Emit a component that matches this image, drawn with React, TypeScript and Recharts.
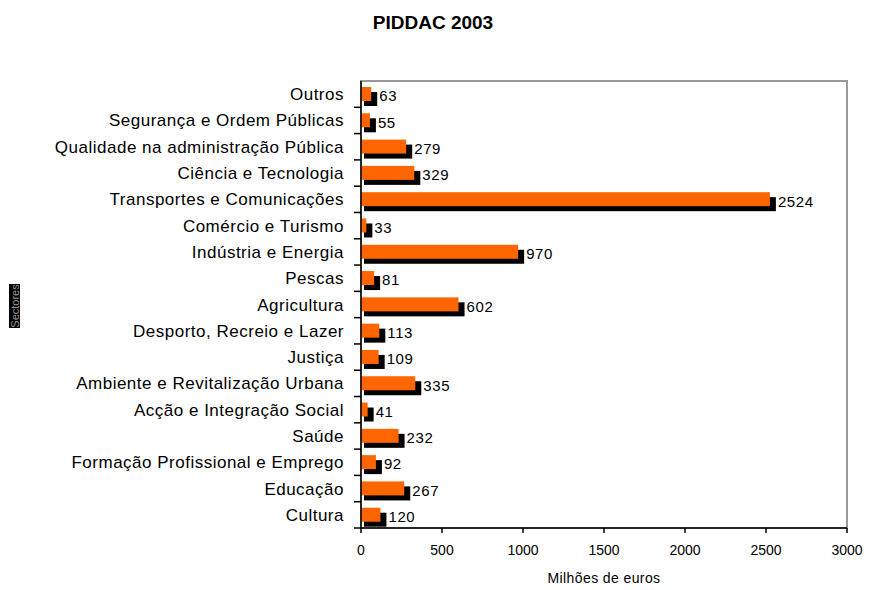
import React from 'react'
import { BarChart, Bar, XAxis, YAxis, LabelList, ReferenceArea } from 'recharts'

const sectors = [
  'Outros',
  'Segurança e Ordem Públicas',
  'Qualidade na administração Pública',
  'Ciência e Tecnologia',
  'Transportes e Comunicações',
  'Comércio e Turismo',
  'Indústria e Energia',
  'Pescas',
  'Agricultura',
  'Desporto, Recreio e Lazer',
  'Justiça',
  'Ambiente e Revitalização Urbana',
  'Acção e Integração Social',
  'Saúde',
  'Formação Profissional e Emprego',
  'Educação',
  'Cultura',
]
const amounts = [63, 55, 279, 329, 2524, 33, 970, 81, 602, 113, 109, 335, 41, 232, 92, 267, 120]
const xTicks = [0, 500, 1000, 1500, 2000, 2500, 3000]

const FONT = '"Liberation Sans", Arial, sans-serif'
const W = 869
const H = 590
const PLOT_TOP = 81
const PLOT_BOTTOM = 528
const BAND = (PLOT_BOTTOM - PLOT_TOP) / sectors.length

const data = sectors.map((name, i) => ({ name, value: amounts[i] }))

function ShadowBar(props: any) {
  const { x, y, width, height } = props
  return (
    <g>
      <rect x={x + 3} y={y + 5} width={width + 3} height={height} fill="#000" />
      <rect x={x} y={y} width={width} height={height} fill="#FF6600" />
    </g>
  )
}

function SectorTick(props: any) {
  const { x, y, payload } = props
  return (
    <g>
      <text x={x} y={y} dy={6} textAnchor="end" fontSize={17} letterSpacing={0.5} fill="#000" fontFamily={FONT}>
        {payload.value}
      </text>
      <line x1={x + 10} x2={x + 17} y1={y + BAND / 2} y2={y + BAND / 2} stroke="#000" strokeWidth={1.5} />
    </g>
  )
}

export default function App() {
  return (
    <div style={{ position: 'absolute', left: 0, top: 0, width: W, height: H, background: '#fff', fontFamily: FONT }}>
      <div style={{ position: 'absolute', left: 333, top: 12, width: 200, textAlign: 'center', fontSize: 19, fontWeight: 'bold' }}>
        PIDDAC 2003
      </div>
      <div
        style={{
          position: 'absolute', left: 9, top: 284, width: 11, height: 44, background: '#000',
          display: 'flex', alignItems: 'center', justifyContent: 'center', overflow: 'hidden',
        }}
      >
        <span style={{ transform: 'rotate(-90deg)', color: '#999', fontSize: 11, whiteSpace: 'nowrap' }}>Sectores</span>
      </div>
      <BarChart
        width={W}
        height={H}
        data={data}
        layout="vertical"
        margin={{ top: PLOT_TOP, right: 22, bottom: 0, left: 0 }}
        barCategoryGap={0}
      >
        <ReferenceArea x1={0} x2={3000} fill="none" stroke="#999" strokeWidth={2} ifOverflow="visible" />
        <XAxis
          type="number"
          domain={[0, 3000]}
          ticks={xTicks}
          height={H - PLOT_BOTTOM}
          tickSize={5}
          tickMargin={12}
          axisLine={{ stroke: '#000', strokeWidth: 1.5 }}
          tickLine={{ stroke: '#000', strokeWidth: 1.5 }}
          tick={{ fontSize: 14, fill: '#000', fontFamily: FONT }}
          label={{ value: 'Milhões de euros', position: 'insideBottom', offset: 7, fontSize: 14, fill: '#000', letterSpacing: 0.4, fontFamily: FONT }}
        />
        <YAxis
          type="category"
          dataKey="name"
          width={361}
          tickSize={7}
          tickMargin={10}
          tickLine={false}
          interval={0}
          axisLine={{ stroke: '#000', strokeWidth: 1.5 }}
          tick={<SectorTick />}
        />
        <Bar dataKey="value" barSize={14} shape={<ShadowBar />} isAnimationActive={false}>
          <LabelList
            dataKey="value"
            position="right"
            offset={8}
            fontSize={15}
            letterSpacing={0.6}
            fill="#000"
            fontFamily={FONT}
            dy={2}
          />
        </Bar>
      </BarChart>
    </div>
  )
}
